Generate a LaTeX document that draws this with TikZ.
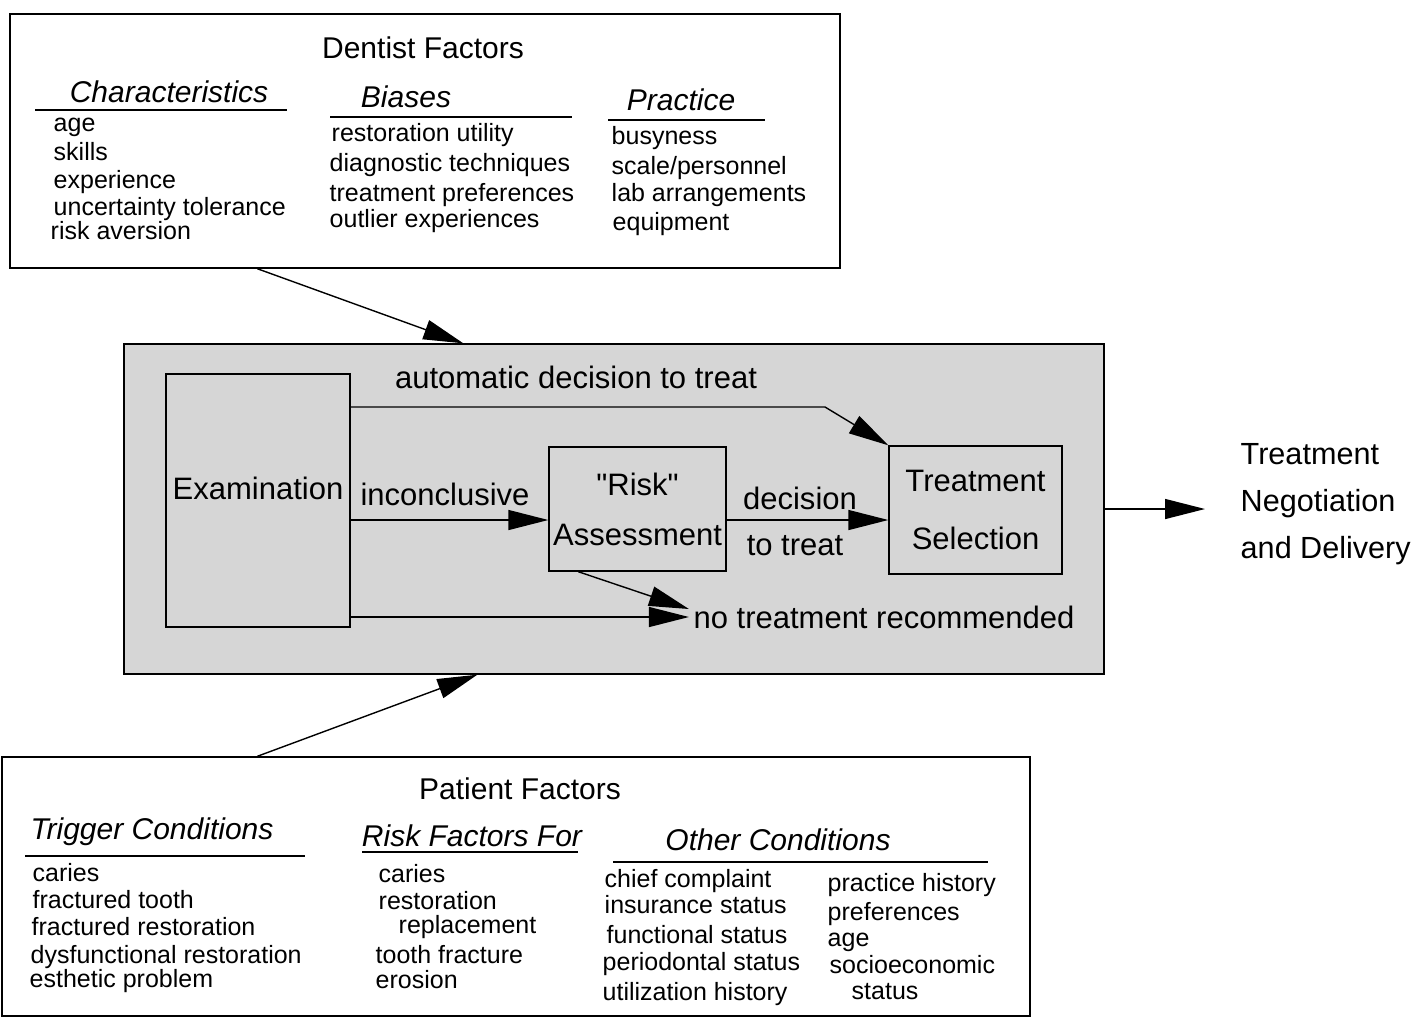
\documentclass[tikz,border=0pt]{standalone}
\usepackage{fontspec}
\setmainfont{Liberation Sans}
\usetikzlibrary{arrows.meta}

\begin{document}
\begin{tikzpicture}[x = 0.5pt, y = -0.5pt, line width = 0.7pt,
	> = {Triangle[length = 20pt, width = 10pt]},
	box/.style = {draw, inner sep = 0pt},
	boxtitle/.style = {font = \fontsize{15}{18}\selectfont},
	colhead/.style = {font = \fontsize{15}{18}\selectfont\itshape},
	flowtext/.style = {font = \fontsize{15.5}{25}\selectfont, align = center},
	entry/.style = {font = \fontsize{12.5}{15}\selectfont, anchor = west, inner sep = 0pt, text height = 1ex, text depth = 0pt, yshift = -1.5pt}]

	% Definitions (units are pixels of the original figure)
	
	\def\flowY{520}		% Height of the main decision flow
	
	\useasboundingbox (0, 0) rectangle (1416, 1024);
	
	% Dentist factors
	
	\node [box, minimum width = 415pt, minimum height = 127pt] (dentist) at (425, 141) {};
	\node [boxtitle] (dentist-title) at (423, 48) {Dentist Factors};
	
	\node [colhead] (char-head) at (169, 92) {Characteristics};
	\node [colhead] (bias-head) at (406, 97) {Biases};
	\node [colhead] (prac-head) at (681, 100) {Practice};
	\draw (35, 110) -- (287, 110);
	\draw (330, 117) -- (572, 117);
	\draw (608, 120) -- (765, 120);
	
	\foreach \txt/\x/\y [count = \i] in {age/53/123, skills/53/152, experience/53/180, uncertainty tolerance/53/207, risk aversion/50/231}
		\node [entry] (char-\i) at (\x, \y) {\txt};
	\foreach \txt/\x/\y [count = \i] in {restoration utility/331/133, diagnostic techniques/329/163, treatment preferences/329/193, outlier experiences/329/219}
		\node [entry] (bias-\i) at (\x, \y) {\txt};
	\foreach \txt/\x/\y [count = \i] in {busyness/611/136, {scale/personnel}/611/166, lab arrangements/611/193, equipment/612/222}
		\node [entry] (prac-\i) at (\x, \y) {\txt};
	
	% Shaded decision process
	
	\node [box, fill = black!16, minimum width = 490pt, minimum height = 165pt] (process) at (614, 509) {};
	
	\node [box, flowtext, minimum width = 92pt, minimum height = 126.5pt] (exam) at (258, 500.5) {\raisebox{6pt}[\height][\depth]{Examination}};
	\node [box, flowtext, minimum width = 88.5pt, minimum height = 62pt] (risk) at (637.5, 509) {\textquotedbl Risk\textquotedbl\\Assessment};
	\node [box, flowtext, font = \fontsize{15.5}{29}\selectfont, minimum width = 86.5pt, minimum height = 64pt] (select) at (975.5, 510) {Treatment\\Selection};
	
	\coordinate (flow) at (0, \flowY);
	\coordinate (auto-bend) at (825, 407);
	
	\node [flowtext] (auto-label) at (576, 377) {automatic decision to treat};
	\node [flowtext] (inconcl-label) at (445, 494) {inconclusive};
	\node [flowtext] (decide-label) at (800, 498) {decision};
	\node [flowtext] (totreat-label) at (795, 546) {to treat};
	\node [flowtext, inner sep = 2pt] (notreat) at (884, 617) {no treatment recommended};
	
	% Outcome
	
	\node [flowtext, align = left, font = \fontsize{15.3}{23.5}\selectfont, inner sep = 2pt, anchor = west] (delivery) at (1236, 504) {Treatment\\Negotiation\\and Delivery};
	
	% Patient factors
	
	\node [box, minimum width = 514pt, minimum height = 129.5pt] (patient) at (516, 886.5) {};
	\node [boxtitle] (patient-title) at (520, 789) {Patient Factors};
	
	\node [colhead] (trig-head) at (152, 832) {Trigger Conditions};
	\node [colhead] (risk-head) at (472, 836) {Risk Factors For};
	\node [colhead] (other-head) at (778, 840) {Other Conditions};
	\draw (25, 856) -- (305, 856);
	\draw (362, 852) -- (578, 852);
	\draw (613, 862) -- (988, 862);
	
	\foreach \txt/\x/\y [count = \i] in {caries/32/873, fractured tooth/32/900, fractured restoration/31/927, dysfunctional restoration/30/955, esthetic problem/29/979}
		\node [entry] (trig-\i) at (\x, \y) {\txt};
	\foreach \txt/\x/\y [count = \i] in {caries/378/874, restoration/378/901, replacement/398/925, tooth fracture/375/955, erosion/375/980}
		\node [entry] (riskf-\i) at (\x, \y) {\txt};
	\foreach \txt/\x/\y [count = \i] in {chief complaint/604/879, insurance status/604/905, functional status/606/935, periodontal status/602/962, utilization history/602/992}
		\node [entry] (other-\i) at (\x, \y) {\txt};
	\foreach \txt/\x/\y [count = \i] in {practice history/827/883, preferences/827/912, age/827/938, socioeconomic/829/965, status/851/991}
		\node [entry] (otherb-\i) at (\x, \y) {\txt};
	
	% Influences on the decision process
	
	\draw [->] ([xshift = 124pt] dentist.south west) -- ([xshift = 170pt] process.north west);
	\draw [->] ([xshift = 128pt] patient.north west) -- ([xshift = 177pt] process.south west);
	
	% Decision flow
	
	\draw [->] (exam.east |- auto-bend) -- (auto-bend) -- (select.north west);
	\draw [->] (exam.east |- flow) -- (risk.west |- flow);
	\draw [->] (risk.east |- flow) -- (select.west |- flow);
	\draw [->] ([xshift = 15pt] risk.south west) -- ([yshift = 4pt] notreat.west);
	\draw [->] (exam.east |- notreat.west) -- (notreat.west);
	\draw [->, shorten > = 15.5pt] (process.east) -- (process.east -| delivery.west);
	
\end{tikzpicture}
\end{document}
